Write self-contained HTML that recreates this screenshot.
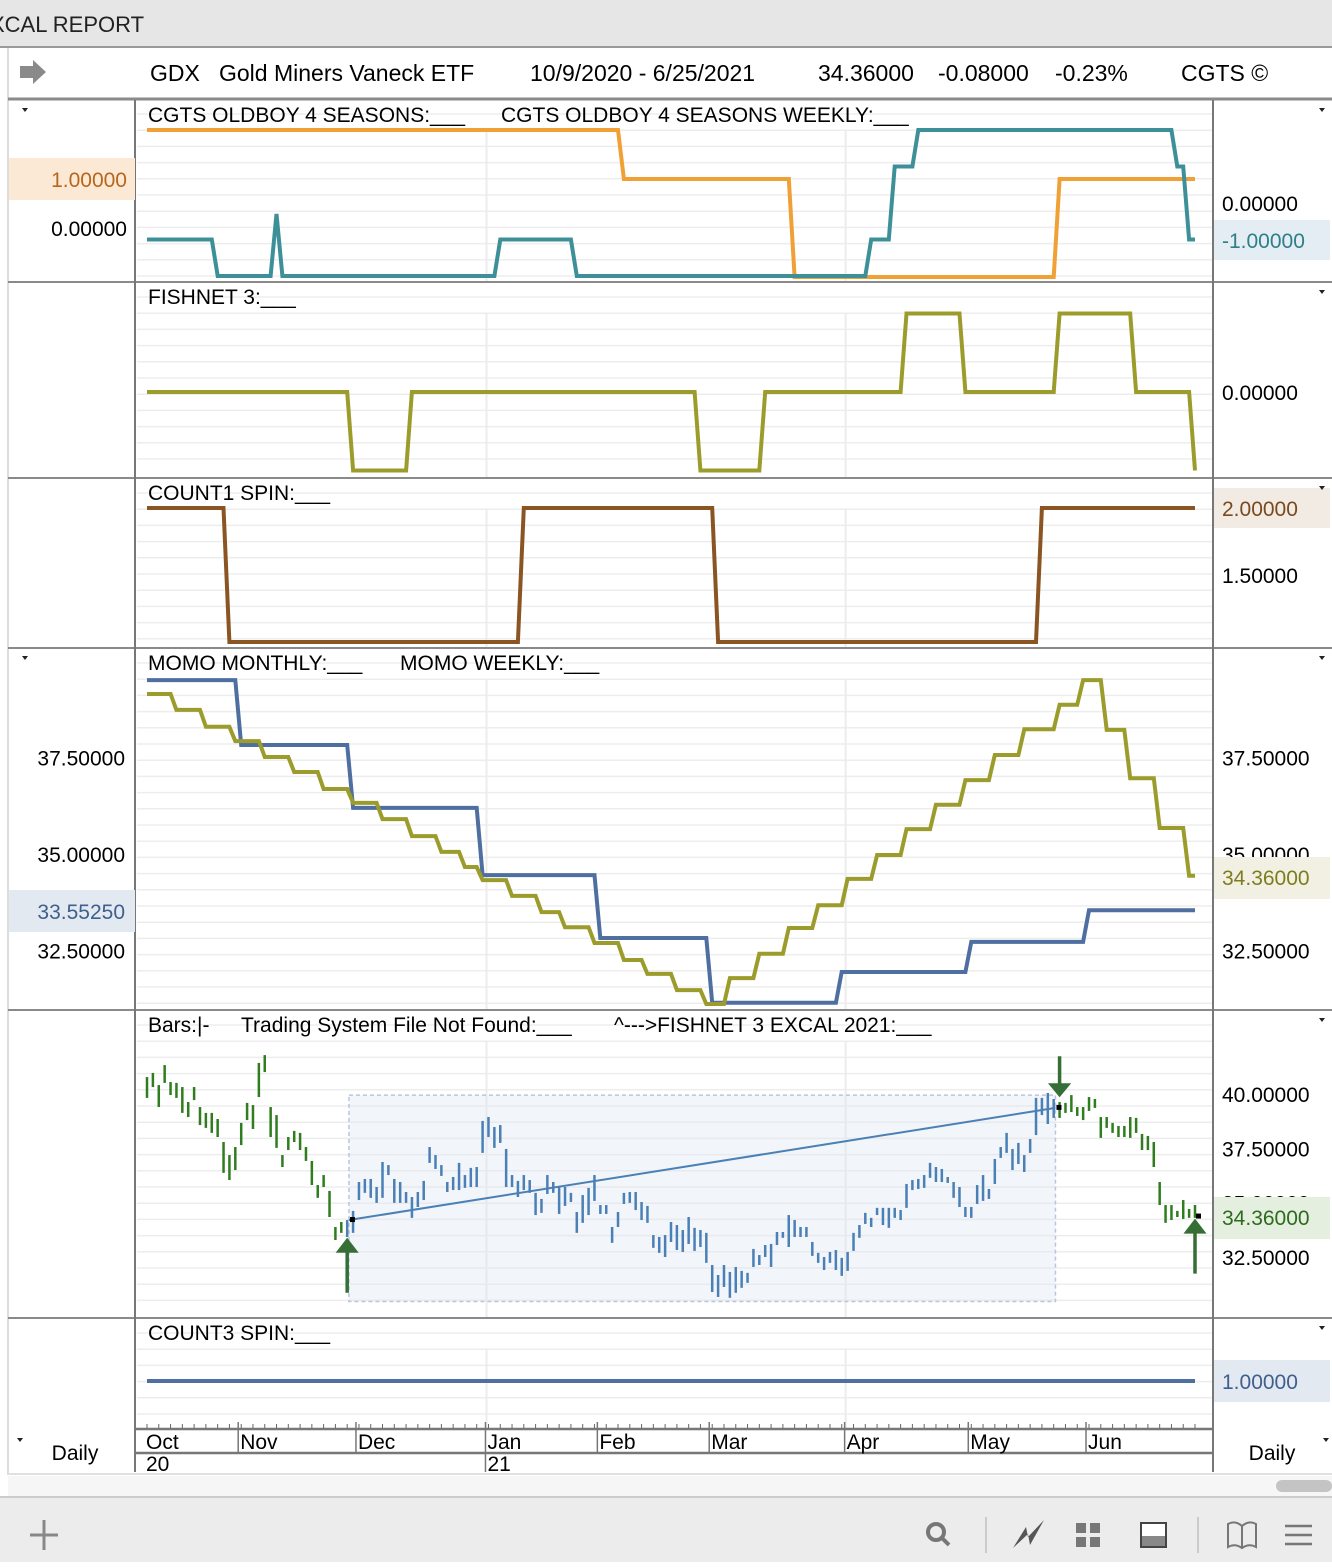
<!DOCTYPE html>
<html><head><meta charset="utf-8">
<style>
html,body{margin:0;padding:0;background:#fff;}
body{width:1332px;height:1562px;overflow:hidden;font-family:"Liberation Sans",sans-serif;}
svg text{font-family:"Liberation Sans",sans-serif;white-space:pre;}
</style></head>
<body>
<svg id="chart" width="1332" height="1562" viewBox="0 0 1332 1562" xmlns="http://www.w3.org/2000/svg">
  <rect x="0" y="0" width="1332" height="1562" fill="#fff"/>
  <rect x="0" y="0" width="1332" height="47" fill="#e6e6e6"/>
  <line x1="0" y1="47" x2="1332" y2="47" stroke="#9a9a9a" stroke-width="2"/>
  <text x="-10" y="32" font-size="22" fill="#222">XCAL REPORT</text>
  <line x1="8" y1="48" x2="8" y2="1475" stroke="#bbb" stroke-width="1"/>
  <polygon points="20,66 33,66 33,60 46,72 33,84 33,78 20,78" fill="#8a8a8a"/>
  <g font-size="23" fill="#000">
    <text x="150" y="81">GDX</text>
    <text x="219" y="81">Gold Miners Vaneck ETF</text>
    <text x="530" y="81">10/9/2020 - 6/25/2021</text>
    <text x="818" y="81">34.36000</text>
    <text x="938" y="81">-0.08000</text>
    <text x="1055" y="81">-0.23%</text>
    <text x="1181" y="81">CGTS ©</text>
  </g>
  <line x1="8" y1="99" x2="1332" y2="99" stroke="#8a8a8a" stroke-width="3"/>
  <g id="grid"></g>
  <g id="marks"></g>
  <g id="frame"></g>
  <g id="labels"></g>
  <rect x="8" y="1476" width="1324" height="20" fill="#f6f6f6"/>
  <rect x="1276" y="1480" width="56" height="12" rx="6" fill="#c4c4c4"/>
  <line x1="0" y1="1497" x2="1332" y2="1497" stroke="#ccc" stroke-width="2"/>
  <rect x="0" y="1498" width="1332" height="64" fill="#ececec"/>
  <g stroke="#888" stroke-width="3"><line x1="44" y1="1520" x2="44" y2="1550"/><line x1="30" y1="1535" x2="58" y2="1535"/></g>
  <g><circle cx="936" cy="1532" r="8" fill="none" stroke="#777" stroke-width="4"/><line x1="942" y1="1538" x2="949" y2="1545" stroke="#777" stroke-width="4"/></g>
  <line x1="986" y1="1517" x2="986" y2="1553" stroke="#ccc" stroke-width="2"/>
  <polygon points="1013,1548 1026,1527 1028,1537 1044,1520 1030,1545 1028,1534" fill="#555"/>
  <g fill="#777"><rect x="1076" y="1523" width="10" height="10"/><rect x="1090" y="1523" width="10" height="10"/><rect x="1076" y="1537" width="10" height="10"/><rect x="1090" y="1537" width="10" height="10"/></g>
  <g><rect x="1141" y="1523" width="25" height="24" fill="#fff" stroke="#444" stroke-width="2"/><rect x="1142" y="1536" width="23" height="10" fill="#888"/></g>
  <line x1="1198" y1="1517" x2="1198" y2="1553" stroke="#ccc" stroke-width="2"/>
  <path d="M1228,1524 Q1235,1520 1242,1526 Q1249,1520 1256,1524 L1256,1547 Q1249,1543 1242,1548 Q1235,1543 1228,1547 Z M1242,1526 L1242,1548" fill="none" stroke="#777" stroke-width="2"/>
  <g stroke="#777" stroke-width="2.5"><line x1="1285" y1="1526" x2="1312" y2="1526"/><line x1="1285" y1="1535" x2="1312" y2="1535"/><line x1="1285" y1="1544" x2="1312" y2="1544"/></g>
</svg>
<script>
// ---- data ----
const monthLabels = ["Oct","Nov","Dec","Jan","Feb","Mar","Apr","May","Jun"];
const monthDays = [0,16,36,58,77,96,119,140,160];
const yearLabels = ["20","21"];
const yearDays = [0,58];
const lastDay = 178;

const oldboyStarts = [0,81,110,155];
const oldboyValues = [2,1,-1,1];
const weeklyStarts = [0,12,22,23,60,73,123,127,131,175,177];
const weeklyValues = [-1,-2,-0.3,-2,-1,-2,-1,1,2,1,-1];

const fishStarts = [0,35,45,94,105,129,139,155,168,178];
const fishValues = [0,-1,0,-1,0,1,0,1,0,-1];

const count1Starts = [0,14,64,97,152];
const count1Values = [2,1,2,1,2];

const momoMStarts = [0,16,35,57,77,96,118,140,160];
const momoMValues = [39.53,37.85,36.22,34.48,32.85,31.17,31.97,32.75,33.57];
const momoWStarts = [0,5,10,15,20,25,30,35,40,45,50,54,57,62,67,71,76,81,85,90,95,99,104,109,114,119,124,129,134,139,144,149,155,159,163,167,172,177];
const momoWValues = [39.17,38.76,38.32,37.95,37.54,37.15,36.71,36.35,35.93,35.49,35.08,34.69,34.35,33.94,33.52,33.13,32.72,32.28,31.92,31.50,31.14,31.81,32.44,33.11,33.70,34.38,35.00,35.67,36.30,36.94,37.59,38.26,38.89,39.53,38.24,36.99,35.70,34.46];

const count3Starts = [0];
const count3Values = [1];

const barHighs = [40.78,40.97,40.41,41.33,40.55,40.51,40.32,39.63,40.32,39.40,39.13,39.13,38.85,37.79,37.19,37.56,38.67,39.59,39.49,41.43,41.79,39.40,39.03,37.19,38.02,38.30,38.21,37.56,36.92,35.81,36.27,35.54,33.88,34.11,34.20,34.62,35.95,36.09,36.09,35.72,36.87,36.73,36.09,35.95,35.49,35.26,35.49,36.00,37.56,37.19,36.73,35.95,36.18,36.83,36.27,36.60,36.64,38.76,38.94,38.48,38.57,37.47,36.27,36.00,36.27,36.04,35.45,35.17,36.27,35.95,35.72,35.72,35.45,34.57,35.35,35.68,36.27,34.89,34.89,33.88,34.57,35.45,35.49,35.49,35.03,34.85,33.51,33.42,33.51,34.11,33.97,33.74,34.34,33.84,33.74,33.61,32.13,31.67,32.13,31.81,32.04,31.86,31.77,32.87,32.59,33.05,33.10,33.65,33.65,34.43,34.20,33.88,33.88,33.19,32.69,32.50,32.73,32.82,32.46,32.73,33.61,33.97,34.53,34.30,34.76,34.76,34.76,34.76,34.66,35.86,36.04,36.09,36.27,36.83,36.64,36.55,36.18,35.95,35.72,34.80,34.80,35.81,36.27,35.63,37.01,37.56,38.21,37.47,37.75,37.19,37.93,39.82,39.82,40.05,39.77,39.63,39.59,39.95,39.40,39.40,39.86,39.77,38.94,38.94,38.67,38.53,38.53,38.94,38.90,38.16,38.07,37.79,35.95,34.89,34.89,34.62,35.12,34.71,34.89];
const barLows = [39.82,40.32,39.40,40.51,39.95,39.82,39.13,38.94,39.72,38.57,38.44,38.21,38.02,36.37,36.04,36.50,37.65,38.80,38.39,39.86,41.01,38.02,37.52,36.64,37.42,37.79,37.42,36.92,35.81,35.22,35.72,34.34,33.28,33.61,33.42,33.61,35.12,35.45,35.22,34.99,35.22,36.27,34.99,34.99,34.99,34.30,34.80,35.12,36.83,36.55,36.23,35.49,35.58,35.58,35.68,35.72,35.72,37.29,38.02,37.52,37.75,35.72,35.72,35.26,35.58,35.45,34.43,34.53,35.40,35.45,34.48,34.85,35.03,33.61,34.07,34.43,35.08,34.48,34.48,33.15,33.88,34.94,34.99,34.66,34.20,34.07,32.92,32.69,32.50,33.19,32.82,32.73,33.10,32.78,32.96,32.23,30.89,30.66,31.12,30.62,30.85,31.08,31.31,32.04,32.13,32.50,32.04,33.05,33.38,32.96,33.42,33.42,33.42,32.55,32.23,31.90,32.23,31.90,31.63,31.86,32.78,33.38,34.02,33.88,34.43,33.97,33.84,34.30,34.20,34.76,35.58,35.63,35.68,36.14,35.95,35.95,35.91,35.22,34.80,34.34,34.30,34.94,35.08,35.17,35.86,37.06,37.29,36.50,36.78,36.41,37.29,38.11,39.03,38.62,38.90,38.90,39.13,39.17,38.99,38.80,39.22,39.36,37.98,38.44,38.21,38.02,38.02,37.98,38.21,37.42,37.42,36.64,34.89,34.07,34.20,34.34,34.25,34.30,34.30];
const regressionDays = [34.3,154.3];
const regressionValues = [34.20,39.36];
const boxDays = [34.3,154.3];
const boxValues = [30.45,39.95];
const upArrowDays = [34,178];
const downArrowDays = [155];
const lastClose = 34.36;

// ---- scales ----
const X0 = 147, X1 = 1195;
function xs(d){ return X0 + (d/lastDay)*(X1-X0); }
const yP1L = v => 228 - v*49;
const yP1R = v => 203 - v*36.5;
const yP2 = v => 392 - v*78.5;
const yP3 = v => 508 - (v-2)*134;
const yP4 = v => 855 - (v-35)*38.6;
const yP5 = v => 1094 - (v-40)*21.73;
const yP6 = v => 1381 - (v-1)*50;

const NS = "http://www.w3.org/2000/svg";
function mk(tag, attrs, parent){
  const e = document.createElementNS(NS, tag);
  for (const k in attrs) e.setAttribute(k, attrs[k]);
  parent.appendChild(e);
  return e;
}
const grid = document.getElementById('grid');
const marks = document.getElementById('marks');
const frame = document.getElementById('frame');
const labels = document.getElementById('labels');

const panels = [[100,282],[283,478],[479,648],[649,1010],[1011,1318],[1319,1428]];
panels.forEach((p,i)=>{
  for (let y=p[0]+14; y<p[1]-4; y+=16.2){
    const l = mk('line',{x1:137,x2:1212,y1:y.toFixed(1),y2:y.toFixed(1),stroke:'#ededed','stroke-width':1.5},grid);
    
    
  }
  [58,119].forEach(d=>{
    const l = mk('line',{x1:xs(d)-2,x2:xs(d)-2,y1:p[0]+30,y2:p[1],stroke:'#ececec','stroke-width':2},grid);
    
    
  });
});

[282,478,648,1010,1318].forEach(y=>{
  const l = mk('line',{x1:8,x2:1332,y1:y,y2:y,stroke:'#8a8a8a','stroke-width':2},frame);
  
  
});
mk('line',{x1:135,x2:135,y1:100,y2:1472,stroke:'#777','stroke-width':2},frame);
mk('line',{x1:1213,x2:1213,y1:100,y2:1472,stroke:'#777','stroke-width':2},frame);

function stepPath(starts, values, yf){
  const pts = [];
  for (let i=0;i<starts.length;i++){
    const s = starts[i];
    const e = (i<starts.length-1) ? starts[i+1]-1 : lastDay;
    pts.push([xs(s), yf(values[i])]);
    if (e > s) pts.push([xs(e), yf(values[i])]);
  }
  return 'M' + pts.map(p=>p[0].toFixed(1)+','+p[1].toFixed(1)).join(' L');
}
function addStep(name, starts, values, yf, color){
  const p = mk('path',{d:stepPath(starts,values,yf),fill:'none',stroke:color,'stroke-width':4,'stroke-linejoin':'miter'},marks);
  
  
}
addStep('oldboy-4-seasons-line', oldboyStarts, oldboyValues, yP1L, '#f0a035');
addStep('oldboy-weekly-line', weeklyStarts, weeklyValues, yP1R, '#3d9097');
addStep('fishnet-3-line', fishStarts, fishValues, yP2, '#9c9c2c');
addStep('count1-spin-line', count1Starts, count1Values, yP3, '#8b5523');
addStep('momo-monthly-line', momoMStarts, momoMValues, yP4, '#4e6fa0');
addStep('momo-weekly-line', momoWStarts, momoWValues, yP4, '#9c9c2c');
addStep('count3-spin-line', count3Starts, count3Values, yP6, '#4e6fa0');

const box = mk('rect',{x:xs(boxDays[0]),y:yP5(boxValues[1]),width:xs(boxDays[1])-xs(boxDays[0]),height:yP5(boxValues[0])-yP5(boxValues[1]),fill:'#dfe6f0','fill-opacity':0.4,stroke:'#b8c6dc','stroke-width':1.5,'stroke-dasharray':'4,3'},marks);


for (let i=0;i<barHighs.length;i++){
  const inBox = i>=34 && i<=154;
  const b = mk('line',{x1:xs(i),x2:xs(i),y1:yP5(barHighs[i]),y2:yP5(barLows[i]),stroke:inBox?'#4a80b5':'#2f7d1f','stroke-width':2.5},marks);
  
  
}
const reg = mk('line',{x1:xs(regressionDays[0]),y1:yP5(regressionValues[0]),x2:xs(regressionDays[1]),y2:yP5(regressionValues[1]),stroke:'#4a80b5','stroke-width':2},marks);


[[regressionDays[0],regressionValues[0]],[regressionDays[1],regressionValues[1]],[lastDay,lastClose]].forEach(p=>{
  const c = mk('rect',{x:xs(p[0])+1,y:yP5(p[1])-3,width:5,height:5,fill:'#000'},marks);
  
  
});
upArrowDays.forEach(d=>{
  const x = xs(d);
  const b = yP5(barLows[d]);
  const a = mk('path',{d:`M${x-1},${b+55} L${x-1},${b+15} L${x-10},${b+15} L${x},${b+2} L${x+10},${b+15} L${x+1},${b+15} L${x+1},${b+55}Z`,fill:'#356f35',stroke:'#356f35','stroke-width':1.5},marks);
  
  
});
downArrowDays.forEach(d=>{
  const x = xs(d);
  const t = yP5(barHighs[d]);
  const a = mk('path',{d:`M${x-1},${t-45} L${x-1},${t-18} L${x-10},${t-18} L${x},${t-6} L${x+10},${t-18} L${x+1},${t-18} L${x+1},${t-45}Z`,fill:'#356f35',stroke:'#356f35','stroke-width':1.5},marks);
  
  
});

function txt(name, x, y, s, opts){
  opts = opts || {};
  const t = mk('text',{x:x,y:y,'font-size':opts.size||21,fill:opts.fill||'#000','text-anchor':opts.anchor||'start'},labels);
  
  
  t.textContent = s;
  return t;
}
function tag(name, x, y, w, h, fill){
  const r = mk('rect',{x:x,y:y,width:w,height:h,fill:fill},labels);
  
  
}
txt('oldboy-legend',148,122,'CGTS OLDBOY 4 SEASONS:___');
txt('oldboy-weekly-legend',501,122,'CGTS OLDBOY 4 SEASONS WEEKLY:___');
txt('fishnet-legend',148,304,'FISHNET 3:___');
txt('count1-legend',148,500,'COUNT1 SPIN:___');
txt('momo-legend',148,670,'MOMO MONTHLY:___');
txt('momo-weekly-legend',400,670,'MOMO WEEKLY:___');
txt('bars-legend',148,1032,'Bars:|-');
txt('system-legend',241,1032,'Trading System File Not Found:___');
txt('fishnet-excal-legend',614,1032,'^--->FISHNET 3 EXCAL 2021:___');
txt('count3-legend',148,1340,'COUNT3 SPIN:___');

tag('oldboy-value-box',9,158,126,42,'#fbe9d6');
txt('oldboy-left-tick',127,187,oldboyValues[1].toFixed(5),{anchor:'end',fill:'#b8661c'});
txt('oldboy-left-tick',127,236,(0).toFixed(5),{anchor:'end'});
txt('weekly-right-tick',1222,211,(0).toFixed(5));
tag('weekly-value-box',1214,220,116,40,'#e3edf3');
txt('weekly-right-tick',1222,248,weeklyValues[weeklyValues.length-1].toFixed(5),{fill:'#2e7f88'});
txt('fishnet-right-tick',1222,400,(0).toFixed(5));
tag('count1-value-box',1214,488,116,40,'#f1ebe3');
txt('count1-right-tick',1222,516,(2).toFixed(5),{fill:'#7a4a1e'});
txt('count1-right-tick',1222,583,(1.5).toFixed(5));
[37.5,35,32.5].forEach(v=>txt('momo-left-tick',125,yP4(v)+7,v.toFixed(5),{anchor:'end'}));
tag('momo-monthly-value-box',9,890,126,42,'#e3e9f1');
txt('momo-monthly-value',125,919,'33.55250',{anchor:'end',fill:'#3f5f8e'});
[37.5,35,32.5].forEach(v=>txt('momo-right-tick',1222,yP4(v)+7,v.toFixed(5)));
tag('momo-weekly-value-box',1214,857,116,42,'#f1f0e3');
txt('momo-weekly-value',1222,885,lastClose.toFixed(5),{fill:'#7d7d20'});
[40,37.5,35,32.5].forEach(v=>txt('bars-right-tick',1222,yP5(v)+8,v.toFixed(5)));
tag('last-price-box',1214,1197,116,42,'#e5efdf');
txt('last-price-value',1222,1225,lastClose.toFixed(5),{fill:'#2d6b1e'});
tag('count3-value-box',1214,1360,116,42,'#e3e9f1');
txt('count3-right-tick',1222,1389,(1).toFixed(5),{fill:'#3f5f8e'});

[[25,110],[1322,110],[1322,292],[1322,488],[25,658],[1322,658],[1322,1020],[1322,1328],[20,1440],[1326,1440]].forEach(p=>{
  const c = mk('polygon',{points:`${p[0]-3},${p[1]-2} ${p[0]+3},${p[1]-2} ${p[0]},${p[1]+2}`,fill:'#222'},labels);
  
  
});

mk('line',{x1:136,x2:1213,y1:1429,y2:1429,stroke:'#777','stroke-width':2.5},frame);
mk('line',{x1:136,x2:1213,y1:1453,y2:1453,stroke:'#777','stroke-width':2.5},frame);
for (let d=0; d<=lastDay; d+=2){
  const t = mk('line',{x1:xs(d),x2:xs(d),y1:1424,y2:1428,stroke:'#666','stroke-width':1},frame);
  
  
}
monthLabels.forEach((m,i)=>{
  const x = xs(monthDays[i]);
  if (i>0){
    const s = mk('line',{x1:x-3,x2:x-3,y1:1422,y2:1453,stroke:'#777','stroke-width':1.5},frame);
    
    
  }
  txt('x-month-label',x-1,1449,m,{size:21});
});
yearLabels.forEach((y,i)=>{
  const x = xs(yearDays[i]);
  if (i>0){ mk('line',{x1:x-3,x2:x-3,y1:1453,y2:1472,stroke:'#777','stroke-width':1.5},frame); }
  txt('x-year-label',x-1,1471,y,{size:21});
});
txt('left-interval-label',75,1460,'Daily',{anchor:'middle',inter:true});
txt('right-interval-label',1272,1460,'Daily',{anchor:'middle',inter:true});
mk('line',{x1:8,x2:1332,y1:1474,y2:1474,stroke:'#e0e0e0','stroke-width':2},frame);
</script>
</body></html>
